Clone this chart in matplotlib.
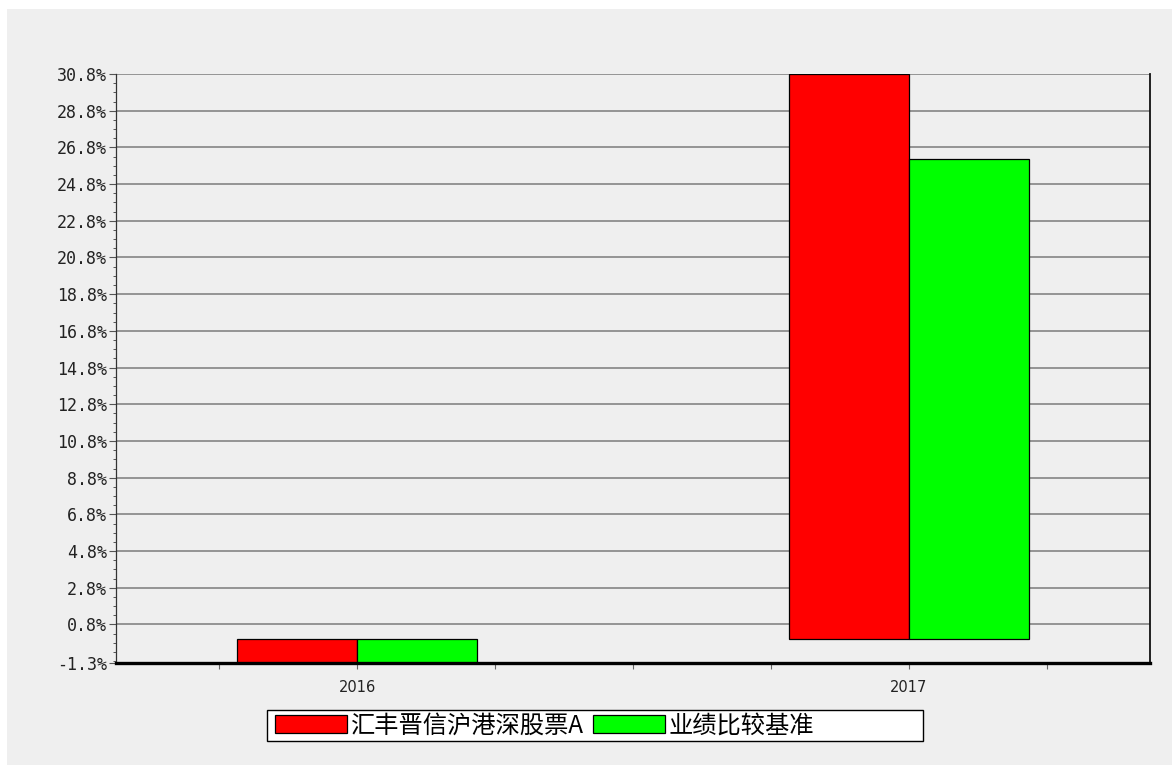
import matplotlib
matplotlib.use("Agg")
import matplotlib.pyplot as plt
from matplotlib.patches import Rectangle
from matplotlib.ticker import FixedLocator
import numpy as np

# ---- data ----
categories = ["2016", "2017"]
fund_values = [-1.30, 30.80]        # 汇丰晋信沪港深股票A (%)
bench_values = [-1.30, 26.15]       # 业绩比较基准 (%)
series_names = ["汇丰晋信沪港深股票A", "业绩比较基准"]
series_colors = ["#ff0000", "#00ff00"]
y_ticks = [-1.3, 0.8, 2.8, 4.8, 6.8, 8.8, 10.8, 12.8, 14.8, 16.8, 18.8,
           20.8, 22.8, 24.8, 26.8, 28.8, 30.8]
y_tick_labels = ["%.1f%%" % v for v in y_ticks]

W, H = 1172, 765
fig = plt.figure(figsize=(W / 100, H / 100), dpi=100, facecolor="white")
bg = "#efefef"
fig.patches.append(Rectangle((7 / W, 0), 1 - 7 / W, 1 - 9 / H, transform=fig.transFigure,
                             facecolor=bg, edgecolor="none", zorder=-10))

ax = fig.add_axes([116 / W, (H - 663) / H, (1150 - 116) / W, (663 - 74) / H])
ax.set_facecolor(bg)

x = np.arange(len(categories))
bw = 0.218
bars1 = ax.bar(x - bw / 2, fund_values, bw, color=series_colors[0], edgecolor="black",
               linewidth=0.9, label=series_names[0], zorder=3)
bars2 = ax.bar(x + bw / 2, bench_values, bw, color=series_colors[1], edgecolor="black",
               linewidth=0.9, label=series_names[1], zorder=3)

ax.set_ylim(-1.3, 30.8)
ax.set_xlim(-0.4375, 1.4375)

ax.yaxis.set_major_locator(FixedLocator(y_ticks))
ax.set_yticklabels(y_tick_labels, family="DejaVu Sans Mono", fontsize=12, color="#222222")
ax.yaxis.set_minor_locator(FixedLocator([round(30.8 - 0.5 * k, 2) for k in range(0, 65)
                                         if 30.8 - 0.5 * k > -1.3]))
ax.tick_params(axis="y", which="major", length=5, width=0.8, color="#555555", pad=1.5)
ax.tick_params(axis="y", which="minor", length=2.5, width=0.7, color="#555555")

ax.set_xticks(x)
ax.set_xticklabels(categories, fontsize=10.5, color="#222222")
ax.xaxis.set_minor_locator(FixedLocator([-0.25, 0.25, 0.5, 0.75, 1.25]))
ax.tick_params(axis="x", which="both", length=4, width=0.8, color="#666666", pad=8)

ax.grid(axis="y", which="major", color="#7c7c7c", linewidth=1.1, zorder=1)
ax.set_axisbelow(True)

ax.spines["top"].set_visible(False)
ax.spines["left"].set_color("#333333")
ax.spines["left"].set_linewidth(0.9)
ax.spines["right"].set_color("#111111")
ax.spines["right"].set_linewidth(1.3)
ax.spines["bottom"].set_color("black")
ax.spines["bottom"].set_linewidth(2.4)
for s in ax.spines.values():
    s.set_zorder(4)

# legend box
fig.patches.append(Rectangle((267 / W, (H - 741) / H), (923 - 267) / W, 31 / H,
                             transform=fig.transFigure, facecolor="white",
                             edgecolor="black", linewidth=1.0, zorder=1))
leg = fig.legend(handles=[bars1, bars2], labels=series_names, loc="center left",
                 bbox_to_anchor=(275 / W, (H - 725.5) / H), ncol=2, frameon=False,
                 borderpad=0, borderaxespad=0, handlelength=2.96, handleheight=0.70,
                 handletextpad=0.17, columnspacing=0.35,
                 prop={"family": ["Noto Sans CJK SC", "DejaVu Sans"], "size": 17.5})
leg.set_zorder(5)

fig.savefig("out.png", dpi=100, facecolor=fig.get_facecolor())
